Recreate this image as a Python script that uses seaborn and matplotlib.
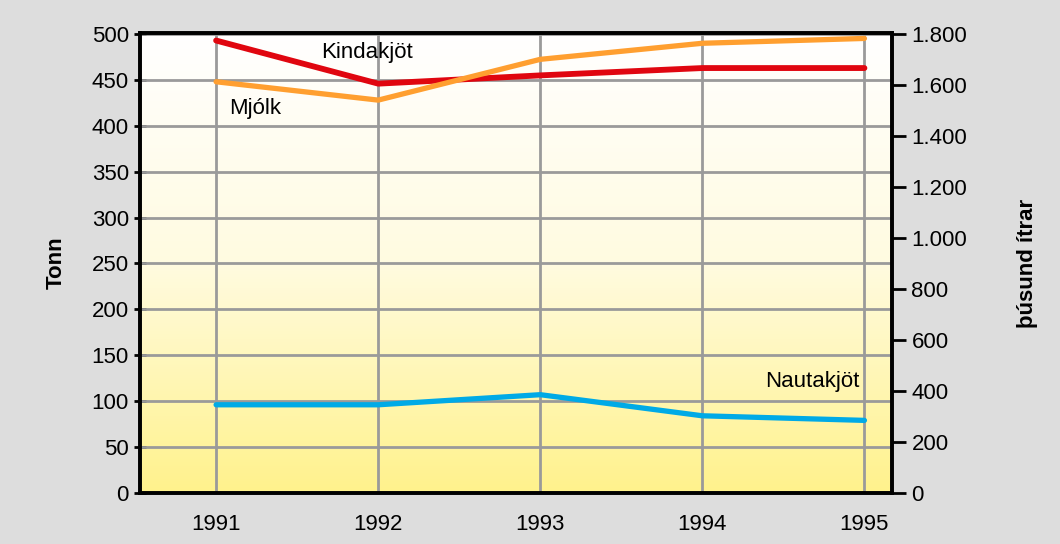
import numpy as np
import pandas as pd
import matplotlib
matplotlib.use("Agg")
import matplotlib.pyplot as plt
import seaborn as sns
from matplotlib.colors import LinearSegmentedColormap
from matplotlib.ticker import FuncFormatter

# -----------------------------
# DATA
# -----------------------------
years = [1991, 1992, 1993, 1994, 1995]
kindakjot = [493, 446, 455, 463, 463]      # Tonn (left axis)
nautakjot = [96, 96, 107, 84, 79]          # Tonn (left axis)
mjolk = [1613, 1541, 1701, 1764, 1783]     # þúsund lítrar (right axis)

left_ticks = [0, 50, 100, 150, 200, 250, 300, 350, 400, 450, 500]
right_ticks = [0, 200, 400, 600, 800, 1000, 1200, 1400, 1600, 1800]

df = pd.DataFrame({
    "year": years,
    "Kindakjöt": kindakjot,
    "Nautakjöt": nautakjot,
    "Mjólk": mjolk,
})

# -----------------------------
# STYLE
# -----------------------------
sns.set_style("white")
plt.rcParams["font.family"] = ["Liberation Sans", "DejaVu Sans"]
plt.rcParams["text.color"] = "black"
plt.rcParams["axes.labelcolor"] = "black"

BG = "#dddddd"
RED = "#e0060f"
ORANGE = "#ff9f30"
BLUE = "#00aae6"
GRID = "#9a9a9a"
FS = 16

fig = plt.figure(figsize=(10.6, 5.44), dpi=100, facecolor=BG)
ax = fig.add_axes([0.132, 0.094, 0.7095, 0.845])
ax2 = ax.twinx()

xmin, xmax = 1990.53, 1995.17
ymax = 501

# gradient background: white at top -> yellow at bottom
cmap = LinearSegmentedColormap.from_list("bg", ["#fff28c", "#fffbe0", "#ffffff"])
grad = np.linspace(0, 1, 256).reshape(-1, 1)
ax.imshow(grad, cmap=cmap, origin="lower", aspect="auto",
          extent=[xmin, xmax, 0, ymax], zorder=0)

# grid
for y in left_ticks[1:]:
    ax.axhline(y, color=GRID, lw=2, zorder=1)
for x in years:
    ax.axvline(x, color=GRID, lw=2, zorder=1)

# lines
sns.lineplot(data=df, x="year", y="Kindakjöt", ax=ax, color=RED, lw=4.2, zorder=3)
sns.lineplot(data=df, x="year", y="Nautakjöt", ax=ax, color=BLUE, lw=3.8, zorder=3)
sns.lineplot(data=df, x="year", y="Mjólk", ax=ax2, color=ORANGE, lw=3.8, zorder=3)

ax.set_xlim(xmin, xmax)
ax.set_ylim(0, ymax)
ax2.set_ylim(0, ymax * 3.6)

ax.set_xticks(years)
ax.set_xticklabels([str(y) for y in years])
ax.set_yticks(left_ticks)
ax2.set_yticks(right_ticks)
ax2.yaxis.set_major_formatter(FuncFormatter(lambda v, _: f"{int(v):,}".replace(",", ".")))

ax.tick_params(axis="x", length=0, pad=15, labelsize=FS, colors="black")
ax.tick_params(axis="y", direction="inout", length=8, width=2, pad=4,
               labelsize=FS, colors="black")
ax2.tick_params(axis="y", direction="out", length=10, width=2, pad=4,
                labelsize=FS, colors="black")

ax.set_xlabel("")
ax.set_ylabel("Tonn", fontsize=FS, fontweight="bold", labelpad=18)
ax2.set_ylabel("þúsund ítrar", fontsize=FS, fontweight="bold", labelpad=36,
               rotation=90)

for a in (ax, ax2):
    for s in a.spines.values():
        s.set_color("black")
        s.set_linewidth(2.6)
ax2.patch.set_visible(False)

# series labels
ax.text(1991.93, 480, "Kindakjöt", fontsize=FS, ha="center", va="center", zorder=5)
ax.text(1991.24, 419, "Mjólk", fontsize=FS, ha="center", va="center", zorder=5)
ax.text(1994.68, 121, "Nautakjöt", fontsize=FS, ha="center", va="center", zorder=5)

plt.savefig("out.png", dpi=100, facecolor=BG)
plt.close()
